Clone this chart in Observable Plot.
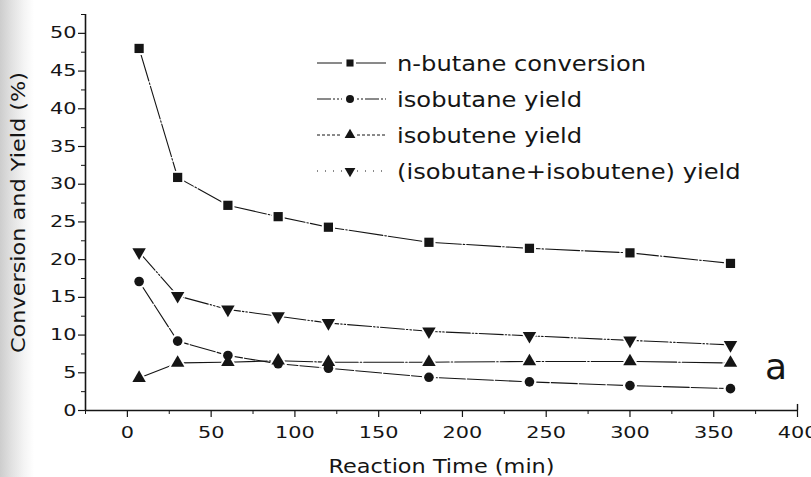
<!DOCTYPE html>
<html><head><meta charset="utf-8">
<script src="https://cdn.jsdelivr.net/npm/d3@7"></script>
<script src="https://cdn.jsdelivr.net/npm/@observablehq/plot@0.6"></script>
<style>
body{margin:0;background:#fff;}
#wrap{position:relative;width:811px;height:477px;overflow:hidden;background:linear-gradient(to right,#cdcdcd 0px,#e2e2e2 12px,#f4f4f4 24px,#fff 34px);font-family:"DejaVu Sans",sans-serif;color:#151515;}
#chart{position:absolute;left:0;top:0;}
#legend{position:absolute;left:316px;top:45px;}
.row{display:flex;align-items:center;height:36px;}
.row svg{display:block;}
.row span{display:inline-block;transform:scaleX(1.1);transform-origin:left center;font-size:22px;margin-left:9px;white-space:nowrap;}
#tag{position:absolute;left:765px;top:349px;font-size:36px;line-height:36px;}
</style></head>
<body><div id="wrap"><div id="chart"></div><div id="legend"></div><div id="tag">a</div></div>
<script>
// ---- data ----
const times = [7, 30, 60, 90, 120, 180, 240, 300, 360];
const nButaneConversion = [48.0, 30.9, 27.2, 25.7, 24.3, 22.3, 21.5, 20.9, 19.5];
const isobutaneYield = [17.1, 9.2, 7.3, 6.2, 5.6, 4.4, 3.8, 3.3, 2.9];
const isobuteneYield = [4.3, 6.3, 6.4, 6.6, 6.4, 6.4, 6.5, 6.5, 6.3];
const sumYield = [21.0, 15.2, 13.4, 12.5, 11.6, 10.5, 9.9, 9.3, 8.7];
const seriesNames = ["n-butane conversion", "isobutane yield", "isobutene yield", "(isobutane+isobutene) yield"];
const xTicks = [0, 50, 100, 150, 200, 250, 300, 350, 400];
const yTicks = [0, 5, 10, 15, 20, 25, 30, 35, 40, 45, 50];
const xDomain = [-25, 400];
const yDomain = [0, 52.5];

const triangleDown = {
  draw(context, size) {
    const y = -Math.sqrt(size / (Math.sqrt(3) * 3));
    context.moveTo(0, -y * 2);
    context.lineTo(-Math.sqrt(3) * y, y);
    context.lineTo(Math.sqrt(3) * y, y);
    context.closePath();
  }
};

const styles = [
  {symbol: "square", r: 5.2, dash: "34,2,1.5,2"},
  {symbol: "circle", r: 4.8, dash: "26,2"},
  {symbol: "triangle", r: 5, dash: "40,2,1.5,2"},
  {symbol: triangleDown, r: 5, dash: "24,2,1.5,2,1.5,2"}
];
const valuesList = [nButaneConversion, isobutaneYield, isobuteneYield, sumYield];
const series = seriesNames.map((name, k) => ({
  name, ...styles[k],
  data: times.map((t, i) => ({time: t, value: valuesList[k][i]}))
}));

const ink = "#151515";
const marks = [
  Plot.axisY({ticks: yTicks, tickSize: 7, tickPadding: 2, stroke: ink, strokeWidth: 1.2,
    label: "Conversion and Yield (%)", labelAnchor: "center", labelOffset: 75, labelArrow: "none"}),
  Plot.axisY({ticks: d3.range(2.5, 53, 5), tickSize: 4, text: null, label: null, stroke: ink}),
  Plot.axisX({ticks: xTicks, tickSize: 7, tickPadding: 9, stroke: ink, strokeWidth: 1.2,
    label: "Reaction Time (min)", labelAnchor: "center", labelOffset: 62, labelArrow: "none"}),
  Plot.axisX({ticks: d3.range(-25, 400, 50), tickSize: 4, text: null, label: null, stroke: ink}),
  Plot.ruleX([xDomain[0]], {stroke: ink, strokeWidth: 1.6}),
  Plot.ruleY([yDomain[0]], {stroke: ink, strokeWidth: 1.6}),
  Plot.ruleX([xDomain[1]], {y1: 0, y2: 0.8, stroke: ink, strokeWidth: 1.4}),
  ...series.map(s => Plot.line(s.data, {x: "time", y: "value", stroke: ink, strokeWidth: 1.1, strokeDasharray: s.dash})),
  ...series.map(s => Plot.dot(s.data, {x: "time", y: "value", symbol: s.symbol, r: s.r + 2.2, fill: "white", stroke: "none"})),
  ...series.map(s => Plot.dot(s.data, {x: "time", y: "value", symbol: s.symbol, r: s.r, fill: ink, stroke: "none"}))
];

const chart = Plot.plot({
  width: 811, height: 477,
  marginLeft: 85, marginRight: 14, marginTop: 14, marginBottom: 67,
  x: {domain: xDomain},
  y: {domain: yDomain},
  style: {fontFamily: "DejaVu Sans", fontSize: "16px", color: ink, background: "transparent", overflow: "visible"},
  marks
});
document.getElementById("chart").appendChild(chart);

// widen glyphs like the reference's stretched typeface
const svg = d3.select(chart);
svg.selectAll('g[aria-label$="-axis label"]').style("font-size", "20px");
svg.selectAll('g[aria-label$="tick label"] text').each(function() {
  const len = this.getComputedTextLength();
  this.setAttribute("textLength", len * 1.3);
  this.setAttribute("lengthAdjust", "spacingAndGlyphs");
});
svg.selectAll('g[aria-label$="-axis label"] text').each(function() {
  const len = this.getComputedTextLength();
  this.setAttribute("textLength", len * 1.12);
  this.setAttribute("lengthAdjust", "spacingAndGlyphs");
});

// legend
const legendDash = ["24,0", "14,2,2,2,2,2", "3,2", "1,7"];
const legend = d3.select("#legend");
series.forEach((s, k) => {
  const row = legend.append("div").attr("class", "row");
  const ls = row.append("svg").attr("width", 72).attr("height", 36);
  ls.append("line").attr("x1", 1).attr("x2", 70).attr("y1", 18).attr("y2", 18)
    .attr("stroke", ink).attr("stroke-width", 1).attr("stroke-dasharray", legendDash[k]);
  const sym = typeof s.symbol === "string" ? {square: d3.symbolSquare, circle: d3.symbolCircle, triangle: d3.symbolTriangle}[s.symbol] : s.symbol;
  ls.append("rect").attr("x", 26).attr("y", 12).attr("width", 14).attr("height", 12).attr("fill", "white");
  ls.append("path").attr("transform", "translate(34,18)")
    .attr("d", d3.symbol(sym, Math.PI * 4 * 4)()).attr("fill", ink);
  row.append("span").text(s.name);
});
</script>
</body></html>
